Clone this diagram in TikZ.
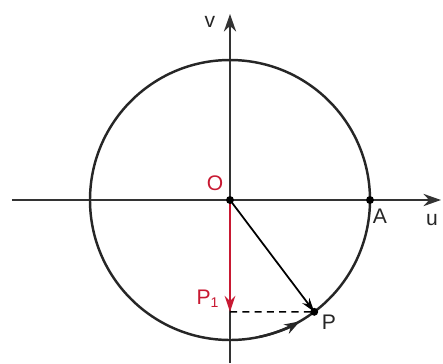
\documentclass[tikz,border=0pt]{standalone}
\usepackage{fontspec}
\setmainfont{Liberation Sans}
\usetikzlibrary{arrows.meta}
\definecolor{myred}{RGB}{200,25,50}
\tikzset{
  axis/.style={line width=1pt, draw=black!80, -{Stealth[length=10pt,width=7pt]}},
  circ/.style={line width=1.4pt, draw=black!85},
  vec/.style={line width=1pt, -{Stealth[length=8pt,width=5pt]}},
  redvec/.style={line width=1.5pt, draw=myred, -{Stealth[length=9pt,width=6pt]}, color=myred},
  dot/.style={circle, fill=black, inner sep=0pt, minimum size=4.5pt},
  lbl/.style={font=\fontsize{12}{14}\selectfont, text=black!85},
  rlbl/.style={font=\fontsize{12}{14}\selectfont, text=myred}
}
\begin{document}
\begin{tikzpicture}[x=0.02cm,y=0.02cm]
\useasboundingbox (-230,-163) rectangle (213,200);
\coordinate (O) at (0,0);
\coordinate (L) at (-218,0);
\coordinate (R) at (211,0);
\coordinate (B) at (0,-163);
\coordinate (T) at (0,186);
\coordinate (A) at (140,0);
\coordinate (P) at (-53:140);
\coordinate (P1) at (0,-111.8);
\draw[axis] (L) -- (R);
\draw[axis] (B) -- (T);
\draw[circ] (O) circle (140);
\draw[circ, -{Stealth[length=9pt,width=6pt]}] (-78:140) arc (-78:-60:140);
\draw[dashed, line width=0.8pt, dash pattern=on 4pt off 3pt] (P1) -- (P);
\draw[vec] (O) -- (P);
\draw[redvec] (O) -- (P1);
\node[dot] (o) at (O) {};
\node[dot] (a) at (A) {};
\node[dot] (p) at (P) {};
\node[rlbl] (lo) at (-15,17) {O};
\node[lbl] (la) at (150,-16) {A};
\node[lbl] (lu) at (202,-20) {u};
\node[lbl] (lv) at (-20,178) {v};
\node[rlbl] (lp1) at (-22,-99) {P\textsubscript{1}};
\node[lbl] (lp) at (99,-122) {P};
\end{tikzpicture}
\end{document}
